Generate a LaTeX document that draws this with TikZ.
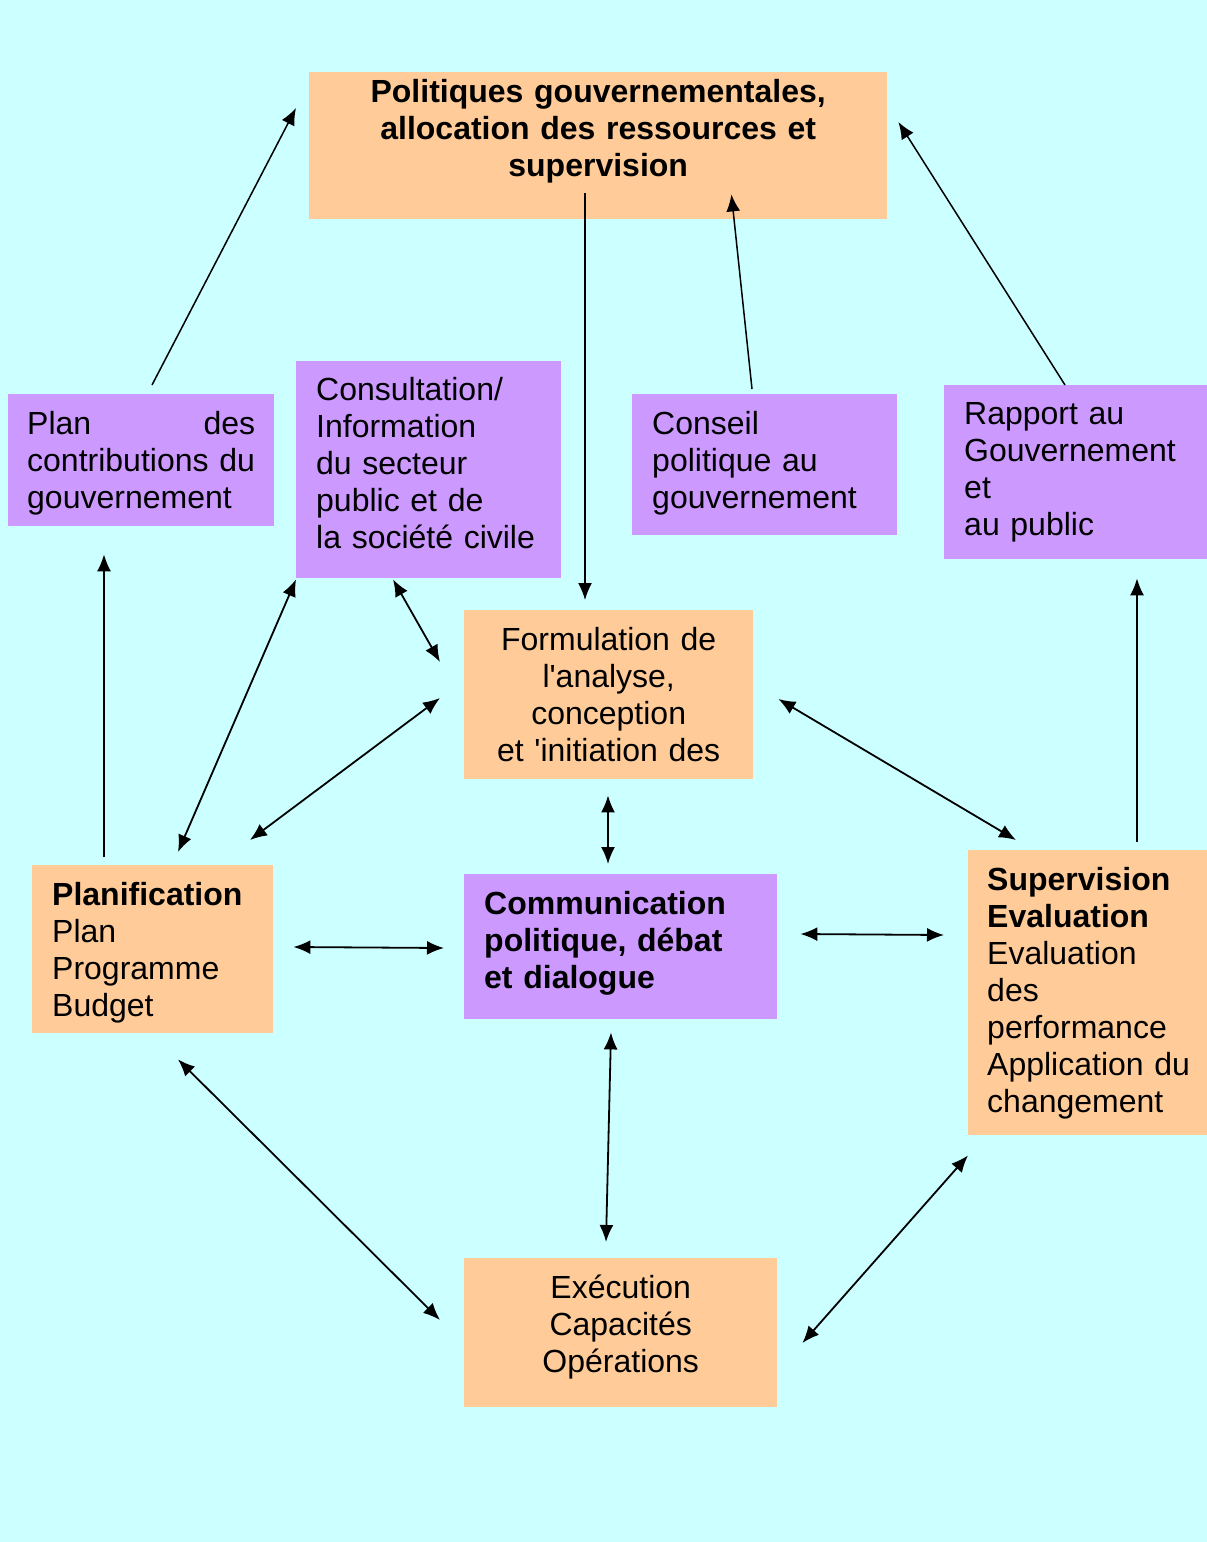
\documentclass[tikz,border=0pt]{standalone}
\usepackage{fontspec}
\setmainfont{Liberation Sans}
\usepackage{tikz}
\usetikzlibrary{arrows, arrows.meta, positioning, calc, shapes}
\definecolor{peche}{RGB}{255,204,153}
\definecolor{lilas}{RGB}{204,153,255}
\definecolor{fond}{RGB}{204,255,255}

\begin{document}
\begin{tikzpicture}[x=1pt, y=-1pt,
  every node/.style={font=\fontsize{32}{37}\selectfont, inner ysep=0pt, inner xsep=20pt, text height=23pt, anchor=north west},
  boiteO/.style={fill=peche},
  boiteV/.style={fill=lilas},
  fl/.style={-{Latex[length=17pt,width=14pt]}, line width=1.5pt},
  dfl/.style={{Latex[length=17pt,width=14pt]}-{Latex[length=17pt,width=14pt]}, line width=1.8pt}]
\fill[fond] (0,0) rectangle (1207,1542);
\useasboundingbox (0,0) rectangle (1207,1542);
\node[boiteO, minimum width=578pt, minimum height=147pt, text width=538pt, align=center, text depth=110pt, font=\fontsize{32}{37}\selectfont\bfseries] (PG) at (309,72) {Politiques gouvernementales,\\allocation des ressources et\\supervision};
\node[boiteV, minimum width=266pt, minimum height=132pt, text width=228pt, inner xsep=19pt, text depth=75pt, align=left] (PC) at (8,394) {Plan \hfill des\\contributions~du\\gouvernement};
\node[boiteV, minimum width=265pt, minimum height=217pt, text width=225pt, text depth=162pt, align=left] (CI) at (296,361) {Consultation/\\Information\\du secteur\\public et de\\la société civile};
\node[boiteV, minimum width=265pt, minimum height=141pt, text width=225pt, text depth=84pt, align=left] (CP) at (632,394) {Conseil\\politique au\\gouvernement};
\node[boiteV, minimum width=263pt, minimum height=174pt, text width=223pt, text depth=119pt, align=left] (RG) at (944,385) {Rapport au\\Gouvernement\\et\\au public};
\node[boiteO, minimum width=289pt, minimum height=169pt, text width=249pt, text depth=112pt, align=center] (FA) at (464,610) {Formulation de\\l\textquotesingle analyse,\\conception\\et \textquotesingle initiation des};
\node[boiteO, minimum width=241pt, minimum height=168pt, text width=201pt, text depth=111pt, align=left] (PL) at (32,865) {\textbf{Planification}\\Plan\\Programme\\Budget};
\node[boiteV, minimum width=313pt, minimum height=145pt, text width=273pt, text depth=88pt, align=left, font=\fontsize{32}{37}\selectfont\bfseries] (CO) at (464,874) {Communication\\politique, débat\\et dialogue};
\node[boiteO, minimum width=239pt, minimum height=285pt, text width=201pt, inner xsep=19pt, text depth=228pt, align=left] (SE) at (968,850) {\textbf{Supervision}\\\textbf{Evaluation}\\Evaluation\\des\\performance\\Application~du\\changement};
\node[boiteO, minimum width=313pt, minimum height=149pt, text width=273pt, text depth=92pt, align=center] (EX) at (464,1258) {Exécution\\Capacités\\Opérations};
\draw[fl] ([shift={(144,-9)}]PC.north west) -- ([shift={(-13,36)}]PG.north west);
\draw[fl] ([shift={(276,-26)}]PG.south west) -- ([shift={(121,-10)}]FA.north west);
\draw[fl] ([shift={(120,-5)}]CP.north west) -- ([shift={(-156,-25)}]PG.south east);
\draw[fl] ([shift={(121,0)}]RG.north west) -- ([shift={(11,50)}]PG.north east);
\draw[fl] ([shift={(72,-8)}]PL.north west) -- ([shift={(96,28)}]PC.south west);
\draw[fl] ([shift={(169,-8)}]SE.north west) -- ([shift={(193,19)}]RG.south west);
\draw[dfl] ([shift={(146,-13)}]PL.north west) -- ([shift={(0,1)}]CI.south west);
\draw[dfl] ([shift={(97,1)}]CI.south west) -- ([shift={(-24,52)}]FA.north west);
\draw[dfl] ([shift={(218,-25)}]PL.north west) -- ([shift={(-24,88)}]FA.north west);
\draw[dfl] ([shift={(25,89)}]FA.north east) -- ([shift={(48,-10)}]SE.north west);
\draw[dfl] ([shift={(144,16)}]FA.south west) -- ([shift={(144,-10)}]CO.north west);
\draw[dfl] ([shift={(20,82)}]PL.north east) -- ([shift={(-20,74)}]CO.north west);
\draw[dfl] ([shift={(23,60)}]CO.north east) -- ([shift={(-24,85)}]SE.north west);
\draw[dfl] ([shift={(146,26)}]PL.south west) -- ([shift={(-24,62)}]EX.north west);
\draw[dfl] ([shift={(147,13)}]CO.south west) -- ([shift={(142,-16)}]EX.north west);
\draw[dfl] ([shift={(25,85)}]EX.north east) -- ([shift={(0,20)}]SE.south west);
\end{tikzpicture}
\end{document}
